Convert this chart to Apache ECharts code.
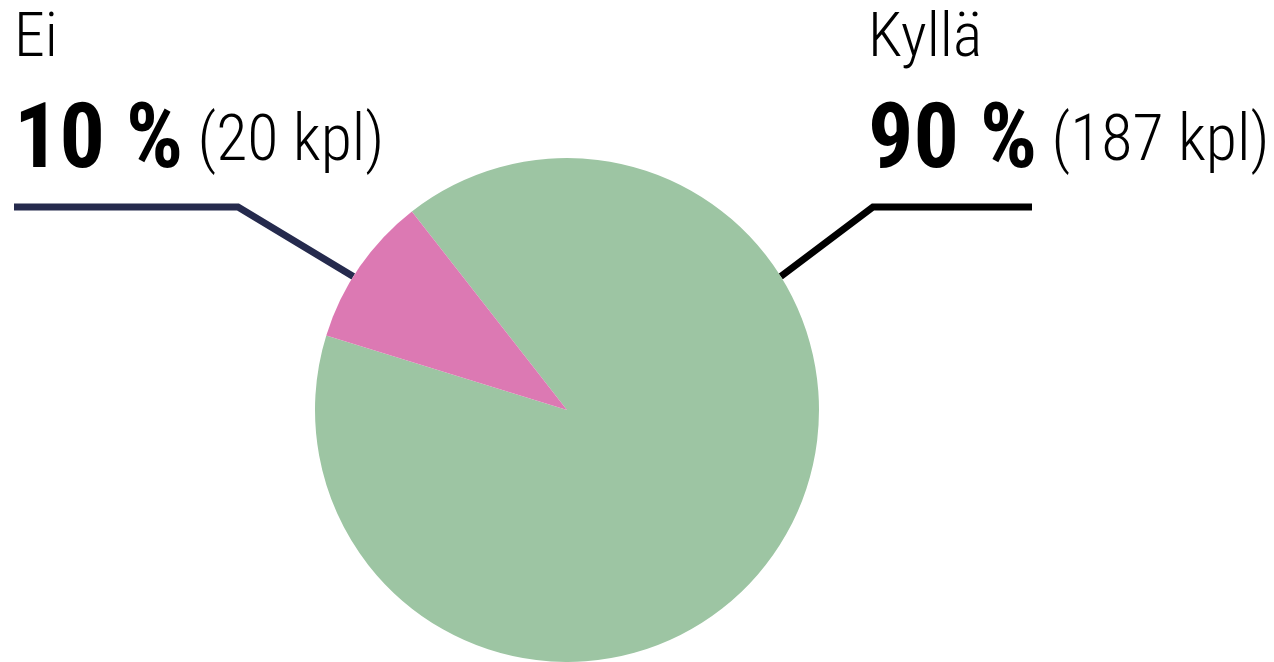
<!DOCTYPE html>
<html><head><meta charset="utf-8">
<script src="https://cdn.jsdelivr.net/npm/echarts@6/dist/echarts.min.js"></script>
<style>html,body{margin:0;padding:0;background:#fff}#c{width:1274px;height:662px}</style>
</head><body><div id="c"></div>
<script>
const categories = ['Kyllä', 'Ei'];
const counts = [187, 20];
const colors = ['#9dc5a3', '#dc79b3'];
const lineColors = ['#000000', '#252a4d'];

const CX = 567, CY = 410, R = 252;
const FONT = '"Roboto Condensed", Roboto, sans-serif';
const total = counts.reduce((a, b) => a + b, 0);

// label placement (layout only)
const labelPos = [
  { x: 868, y: -12, anchorDeg: 32, elbowX: 873, endX: 1032, lineY: 207 },
  { x: 14, y: -12, anchorDeg: 148, elbowX: 238, endX: 14, lineY: 207 }
];

const chart = echarts.init(document.getElementById('c'), null, { renderer: 'canvas' });
chart.setOption({
  animation: false,
  series: [{
    type: 'pie',
    center: [CX, CY],
    radius: R,
    startAngle: 128,
    clockwise: true,
    data: categories.map((n, i) => ({
      name: n, value: counts[i],
      itemStyle: { color: colors[i] },
      labelLine: { lineStyle: { color: lineColors[i], width: 7 } }
    })),
    itemStyle: { borderWidth: 0 },
    emphasis: { disabled: true },
    label: {
      show: true,
      overflow: 'none',
      formatter: p => '{name|' + p.name + '}\n{pct|' + Math.round(p.value / total * 100) + ' %}{cnt| (' + p.value + ' kpl)}',
      rich: {
        name: { fontFamily: FONT, fontWeight: 300, fontSize: 62, lineHeight: 104, color: '#000' },
        pct: { fontFamily: FONT, fontWeight: 700, fontSize: 90, lineHeight: 104, color: '#000' },
        cnt: { fontFamily: FONT, fontWeight: 300, fontSize: 64, lineHeight: 104, color: '#000' }
      }
    },
    labelLine: { show: true, smooth: false },
    labelLayout: function (params) {
      const lp = labelPos[params.dataIndex];
      const a = lp.anchorDeg * Math.PI / 180;
      return {
        x: lp.x, y: lp.y, align: 'left', verticalAlign: 'top',
        labelLinePoints: [
          [CX + R * Math.cos(a), CY - R * Math.sin(a)],
          [lp.elbowX, lp.lineY],
          [lp.endX, lp.lineY]
        ]
      };
    }
  }]
});
</script></body></html>
